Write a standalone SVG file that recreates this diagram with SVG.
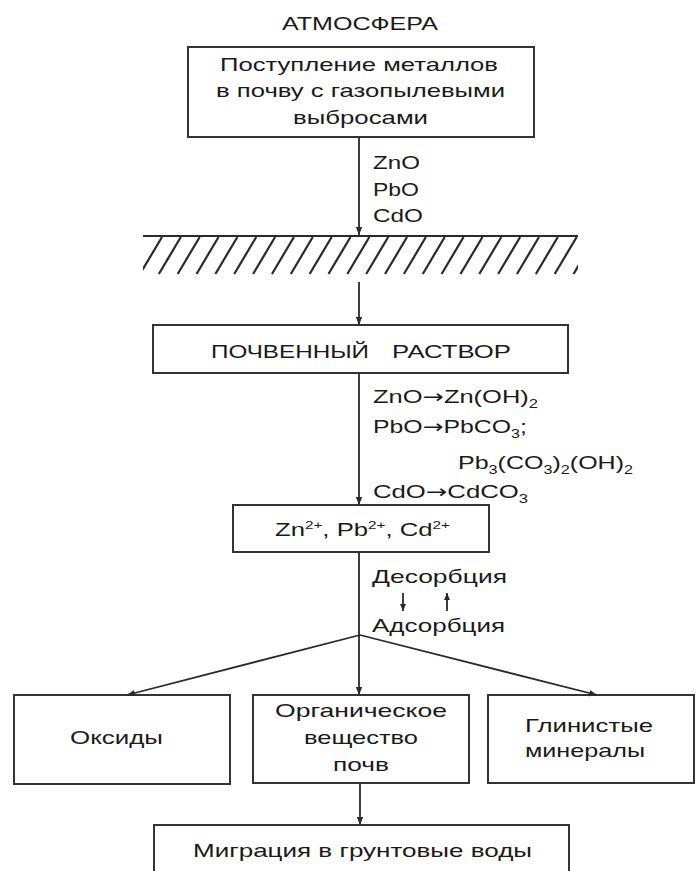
<svg xmlns="http://www.w3.org/2000/svg" width="696" height="871" viewBox="0 0 696 871">
<style>
.bx{fill:#fff;stroke:#333;stroke-width:2}
.t{font-family:"Liberation Sans",Arial,sans-serif;font-size:18.5px;fill:#1a1a1a}
.ar{font-family:"DejaVu Sans",sans-serif}
.c{stroke:#2a2a2a;stroke-width:1.8;fill:none}
.h{stroke:#2a2a2a;stroke-width:2.2;fill:none}
</style>
<defs>
<marker id="ah" markerUnits="userSpaceOnUse" markerWidth="9" markerHeight="8" refX="8" refY="4" orient="auto">
<path d="M0,0.8 L8,4 L0,7.2 z" fill="#2a2a2a"/>
</marker>
<marker id="as" markerUnits="userSpaceOnUse" markerWidth="8" markerHeight="7" refX="7" refY="3.5" orient="auto">
<path d="M0,0.5 L7,3.5 L0,6.5 z" fill="#2a2a2a"/>
</marker>
<clipPath id="hc"><rect x="143" y="236" width="435" height="40"/></clipPath>
</defs>
<rect width="696" height="871" fill="#fff"/>

<g id="atmosphere">
<text class="t" x="282" y="30" textLength="156" lengthAdjust="spacingAndGlyphs">АТМОСФЕРА</text>
</g>

<g id="input">
<rect class="bx" x="188" y="47" width="346" height="90"/>
<text class="t" x="220" y="71" textLength="278" lengthAdjust="spacingAndGlyphs">Поступление металлов</text>
<text class="t" x="216" y="97" textLength="289" lengthAdjust="spacingAndGlyphs">в почву с газопылевыми</text>
<text class="t" x="293" y="124" textLength="135" lengthAdjust="spacingAndGlyphs">выбросами</text>
</g>

<g id="ground">
<line class="h" x1="143" y1="236" x2="578" y2="236"/>
<path class="h" clip-path="url(#hc)" d="M162,237 l-22,37 M180.85,237 l-22,37 M199.7,237 l-22,37 M218.55,237 l-22,37 M237.4,237 l-22,37 M256.25,237 l-22,37 M275.1,237 l-22,37 M293.95,237 l-22,37 M312.8,237 l-22,37 M331.65,237 l-22,37 M350.5,237 l-22,37 M369.35,237 l-22,37 M388.2,237 l-22,37 M407.05,237 l-22,37 M425.9,237 l-22,37 M444.75,237 l-22,37 M463.6,237 l-22,37 M482.45,237 l-22,37 M501.3,237 l-22,37 M520.15,237 l-22,37 M539,237 l-22,37 M557.85,237 l-22,37 M576.7,237 l-22,37 M595.55,237 l-22,37"/>
</g>

<g id="solution">
<rect class="bx" x="153" y="325" width="415" height="48"/>
<text class="t" x="211" y="358" textLength="158" lengthAdjust="spacingAndGlyphs">ПОЧВЕННЫЙ</text>
<text class="t" x="392" y="358" textLength="119" lengthAdjust="spacingAndGlyphs">РАСТВОР</text>
</g>

<g id="ions">
<rect class="bx" x="233" y="505" width="256" height="47"/>
<text class="t" x="275" y="536" textLength="175" lengthAdjust="spacingAndGlyphs">Zn<tspan font-size="11" dy="-7">2+</tspan><tspan dy="7">, Pb</tspan><tspan font-size="11" dy="-7">2+</tspan><tspan dy="7">, Cd</tspan><tspan font-size="11" dy="-7">2+</tspan></text>
</g>

<g id="oxides">
<rect class="bx" x="14" y="695" width="216" height="89"/>
<text class="t" x="70" y="744" textLength="93" lengthAdjust="spacingAndGlyphs">Оксиды</text>
</g>

<g id="organic">
<rect class="bx" x="253" y="695" width="216" height="88"/>
<text class="t" x="275" y="717" textLength="172" lengthAdjust="spacingAndGlyphs">Органическое</text>
<text class="t" x="304" y="744" textLength="114" lengthAdjust="spacingAndGlyphs">вещество</text>
<text class="t" x="333" y="771" textLength="56" lengthAdjust="spacingAndGlyphs">почв</text>
</g>

<g id="clay">
<rect class="bx" x="488" y="695" width="206" height="88"/>
<text class="t" x="525" y="732" textLength="128" lengthAdjust="spacingAndGlyphs">Глинистые</text>
<text class="t" x="525" y="757" textLength="120" lengthAdjust="spacingAndGlyphs">минералы</text>
</g>

<g id="migration">
<rect class="bx" x="154" y="825" width="415" height="60"/>
<text class="t" x="193" y="857" textLength="339" lengthAdjust="spacingAndGlyphs">Миграция в грунтовые воды</text>
</g>

<g id="connectors">
<line class="c" x1="359" y1="137" x2="359" y2="235" marker-end="url(#ah)"/>
<line class="c" x1="359" y1="282" x2="359" y2="325" marker-end="url(#ah)"/>
<line class="c" x1="359" y1="373" x2="359" y2="505" marker-end="url(#ah)"/>
<line class="c" x1="359" y1="552" x2="359" y2="695" marker-end="url(#ah)"/>
<line class="c" x1="360" y1="635" x2="127" y2="695" marker-end="url(#ah)"/>
<line class="c" x1="360" y1="635" x2="597" y2="695" marker-end="url(#ah)"/>
<line class="c" x1="360" y1="783" x2="360" y2="825" marker-end="url(#ah)"/>
<line class="c" x1="403" y1="593" x2="403" y2="611" stroke-width="2" marker-end="url(#as)"/>
<line class="c" x1="447" y1="611" x2="447" y2="593" stroke-width="2" marker-end="url(#as)"/>
</g>

<g id="labels">
<text class="t" x="373" y="169" textLength="47" lengthAdjust="spacingAndGlyphs">ZnO</text>
<text class="t" x="373" y="196" textLength="46" lengthAdjust="spacingAndGlyphs">PbO</text>
<text class="t" x="373" y="222" textLength="50" lengthAdjust="spacingAndGlyphs">CdO</text>
<text class="t" x="373" y="403" textLength="165" lengthAdjust="spacingAndGlyphs">ZnO<tspan class="ar">→</tspan>Zn(OH)<tspan font-size="12" dy="5">2</tspan></text>
<text class="t" x="373" y="433" textLength="154" lengthAdjust="spacingAndGlyphs">PbO<tspan class="ar">→</tspan>PbCO<tspan font-size="12" dy="5">3</tspan><tspan dy="-5">;</tspan></text>
<text class="t" x="458" y="469" textLength="175" lengthAdjust="spacingAndGlyphs">Pb<tspan font-size="12" dy="5">3</tspan><tspan dy="-5">(CO</tspan><tspan font-size="12" dy="5">3</tspan><tspan dy="-5">)</tspan><tspan font-size="12" dy="5">2</tspan><tspan dy="-5">(OH)</tspan><tspan font-size="12" dy="5">2</tspan></text>
<text class="t" x="373" y="498" textLength="155" lengthAdjust="spacingAndGlyphs">CdO<tspan class="ar">→</tspan>CdCO<tspan font-size="12" dy="5">3</tspan></text>
<text class="t" x="372" y="583" textLength="135" lengthAdjust="spacingAndGlyphs">Десорбция</text>
<text class="t" x="372" y="632" textLength="133" lengthAdjust="spacingAndGlyphs">Адсорбция</text>
</g>
</svg>
